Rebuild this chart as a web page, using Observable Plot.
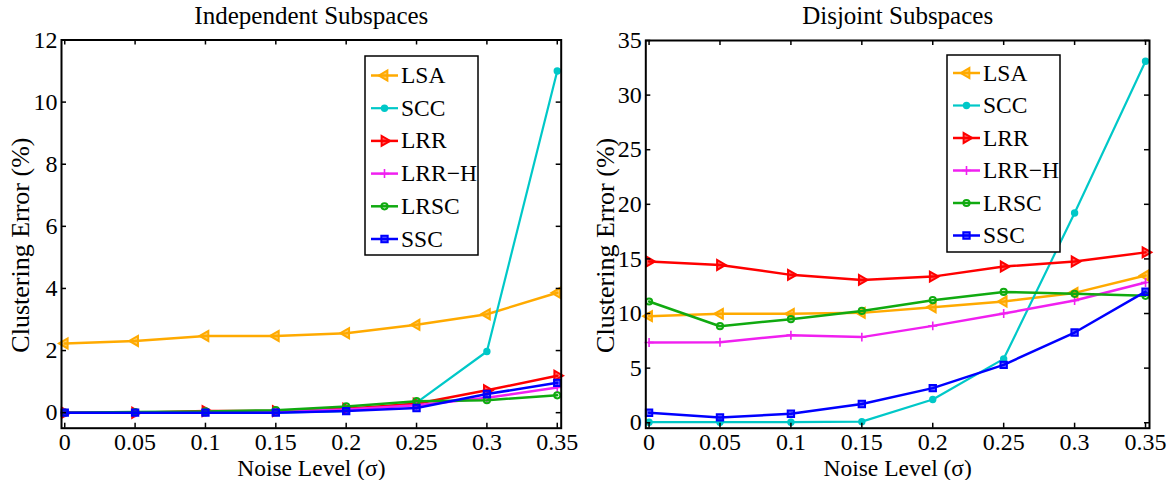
<!DOCTYPE html>
<html>
<head>
<meta charset="utf-8">
<script src="https://cdn.jsdelivr.net/npm/d3@7"></script>
<script src="https://cdn.jsdelivr.net/npm/@observablehq/plot@0.6"></script>
<style>
  body { margin: 0; background: #fff; }
  #chart { position: relative; width: 1173px; height: 480px; background: #fff; }
  #chart svg { position: absolute; top: 0; }
</style>
</head>
<body>
<div id="chart"></div>
<script>
// Noise level (sigma) on the x axis
const noise = [0, 0.05, 0.1, 0.15, 0.2, 0.25, 0.3, 0.35];
const methods = ["LSA", "SCC", "LRR", "LRR−H", "LRSC", "SSC"];

// Clustering error (%) — independent subspaces
const indepLSA  = [2.23, 2.31, 2.47, 2.47, 2.56, 2.83, 3.17, 3.86];
const indepSCC  = [0.0, 0.0, 0.0, 0.0, 0.05, 0.32, 1.97, 11.0];
const indepLRR  = [0.0, 0.0, 0.05, 0.05, 0.13, 0.29, 0.72, 1.19];
const indepLRRH = [0.0, 0.0, 0.02, 0.03, 0.1, 0.24, 0.48, 0.81];
const indepLRSC = [0.0, 0.02, 0.04, 0.08, 0.2, 0.37, 0.4, 0.56];
const indepSSC  = [0.0, 0.0, 0.0, 0.0, 0.05, 0.15, 0.6, 0.96];

// Clustering error (%) — disjoint subspaces
const disjLSA  = [9.76, 9.97, 9.97, 10.06, 10.58, 11.1, 11.89, 13.48];
const disjSCC  = [0.05, 0.05, 0.05, 0.1, 2.13, 5.85, 19.2, 33.1];
const disjLRR  = [14.76, 14.45, 13.54, 13.08, 13.38, 14.3, 14.76, 15.6];
const disjLRRH = [7.35, 7.38, 8.02, 7.84, 8.87, 10.0, 11.19, 12.84];
const disjLRSC = [11.1, 8.84, 9.48, 10.24, 11.22, 11.98, 11.8, 11.62];
const disjSSC  = [0.91, 0.49, 0.82, 1.71, 3.17, 5.3, 8.26, 12.0];

// Axis tick values
const xTicks = [0, 0.05, 0.1, 0.15, 0.2, 0.25, 0.3, 0.35];
const yTicksIndep = [0, 2, 4, 6, 8, 10, 12];
const yTicksDisj = [0, 5, 10, 15, 20, 25, 30, 35];

// Line / marker style for each method
const styles = {
  "LSA":   {color: "#ffaa00", symbol: "triangle", rotate: -90, r: 3.7, fillOpacity: 0.6},
  "SCC":   {color: "#00c8c8", symbol: "circle",   rotate: 0,   r: 2.7, fillOpacity: 1, width: 2.2},
  "LRR":   {color: "#ff0000", symbol: "triangle", rotate: 90,  r: 3.7, fillOpacity: 0.6},
  "LRR−H": {color: "#f020f0", symbol: "plus",     rotate: 0,   r: 3.0, fillOpacity: 0},
  "LRSC":  {color: "#10aa10", symbol: "circle",   rotate: 0,   r: 3.1, fillOpacity: 0},
  "SSC":   {color: "#0000ff", symbol: "square",   rotate: 0,   r: 3.6, fillOpacity: 0.6}
};
const d3Symbols = {triangle: d3.symbolTriangle, circle: d3.symbolCircle, plus: d3.symbolPlus, square: d3.symbolSquare};

function rows(seriesList) {
  return seriesList.flatMap((vals, i) =>
    vals.map((v, j) => ({method: methods[i], sigma: noise[j], err: v})));
}

const FONT = "'Liberation Serif', 'Times New Roman', serif";
const TICK_FONT = 24;

function panel({title, data, yDomain, yTicks, width, margin, legend}) {
  const xDomain = [-0.0023, 0.3528];
  const height = 480;
  const frameW = width - margin.left - margin.right;
  const frameH = height - margin.top - margin.bottom;
  const tickLenY = (yDomain[1] - yDomain[0]) * 5 / frameH;
  const tickLenX = (xDomain[1] - xDomain[0]) * 5 / frameW;

  const seriesMarks = methods.flatMap(m => {
    const s = styles[m];
    const d = data.filter(r => r.method === m);
    return [
      Plot.line(d, {x: "sigma", y: "err", stroke: s.color, strokeWidth: s.width ?? 2.5, strokeLinejoin: "round"}),
      Plot.dot(d, {x: "sigma", y: "err", symbol: () => s.symbol, r: s.r, rotate: s.rotate,
                   stroke: s.color, fill: s.color, fillOpacity: s.fillOpacity,
                   strokeWidth: s.symbol === "plus" ? 1.6 : 2})
    ];
  });

  const svg = Plot.plot({
    width, height,
    marginLeft: margin.left, marginRight: margin.right,
    marginTop: margin.top, marginBottom: margin.bottom,
    style: {fontFamily: FONT, fontSize: `${TICK_FONT}px`, color: "black", background: "white", overflow: "visible"},
    x: {domain: xDomain},
    y: {domain: yDomain},
    symbol: {type: "identity"},
    marks: [
      ...seriesMarks,
      // inward ticks on all four sides
      Plot.ruleX(xTicks, {x: d => d, y1: yDomain[0], y2: yDomain[0] + tickLenY, stroke: "black", strokeWidth: 1.5}),
      Plot.ruleX(xTicks, {x: d => d, y1: yDomain[1] - tickLenY, y2: yDomain[1], stroke: "black", strokeWidth: 1.5}),
      Plot.ruleY(yTicks, {y: d => d, x1: xDomain[0], x2: xDomain[0] + tickLenX, stroke: "black", strokeWidth: 1.5}),
      Plot.ruleY(yTicks, {y: d => d, x1: xDomain[1] - tickLenX, x2: xDomain[1], stroke: "black", strokeWidth: 1.5}),
      Plot.frame({stroke: "black", strokeWidth: 2}),
      Plot.axisX({ticks: xTicks, tickSize: 0, tickPadding: 5, tickFormat: d => String(d), label: null, fontSize: TICK_FONT}),
      Plot.axisY({ticks: yTicks, tickSize: 0, tickPadding: 4, tickFormat: d => String(d), label: null, fontSize: TICK_FONT}),
      Plot.text([title], {frameAnchor: "top", lineAnchor: "middle", textAnchor: "middle", dy: -24.5, text: d => d, fontSize: 25}),
      Plot.text(["Noise Level (σ)"], {frameAnchor: "bottom", lineAnchor: "middle", textAnchor: "middle", dy: 40, text: d => d, fontSize: 23.5}),
      Plot.text(["Clustering Error (%)"], {frameAnchor: "left", lineAnchor: "middle", textAnchor: "middle",
                                           dx: legend.yLabelDx, dy: 11, rotate: -90, text: d => d, fontSize: 26})
    ]
  });

  // Legend box with line + marker samples
  const g = d3.select(svg).append("g").attr("class", "legend");
  g.append("rect")
    .attr("x", legend.x).attr("y", legend.y)
    .attr("width", legend.w).attr("height", legend.h)
    .attr("fill", "white").attr("stroke", "black").attr("stroke-width", 1.5);
  methods.forEach((m, i) => {
    const s = styles[m];
    const cy = legend.rowY + i * legend.rowStep;
    const x0 = legend.x + 6, x1 = legend.x + 33;
    const row = g.append("g");
    row.append("line").attr("x1", x0).attr("x2", x1).attr("y1", cy).attr("y2", cy)
      .attr("stroke", s.color).attr("stroke-width", s.width ?? 2.5);
    row.append("path")
      .attr("d", d3.symbol(d3Symbols[s.symbol], Math.PI * s.r * s.r)())
      .attr("transform", `translate(${(x0 + x1) / 2},${cy}) rotate(${s.rotate})`)
      .attr("stroke", s.color).attr("fill", s.color).attr("fill-opacity", s.fillOpacity)
      .attr("stroke-width", s.symbol === "plus" ? 1.6 : 2);
    row.append("text")
      .attr("x", x1 + 3).attr("y", cy).attr("dy", "0.32em")
      .attr("text-anchor", "start")
      .attr("font-family", FONT).attr("font-size", 23.5).attr("fill", "black")
      .text(m);
  });
  return svg;
}

const chart = document.getElementById("chart");

const left = panel({
  title: "Independent Subspaces",
  data: rows([indepLSA, indepSCC, indepLRR, indepLRRH, indepLRSC, indepSSC]),
  yDomain: [-0.5, 12], yTicks: yTicksIndep,
  width: 580,
  margin: {left: 61, right: 19.3, top: 39.5, bottom: 52.3},
  legend: {x: 365, y: 56, w: 113, h: 199, rowY: 75.5, rowStep: 32.7, yLabelDx: -41}
});
left.style.left = "0px";
chart.appendChild(left);

const right = panel({
  title: "Disjoint Subspaces",
  data: rows([disjLSA, disjSCC, disjLRR, disjLRRH, disjLRSC, disjSSC]),
  yDomain: [-0.5, 35], yTicks: yTicksDisj,
  width: 593,
  margin: {left: 65.3, right: 24, top: 40, bottom: 52.3},
  legend: {x: 367, y: 55, w: 113, h: 197, rowY: 73, rowStep: 32.5, yLabelDx: -40}
});
right.style.left = "580px";
chart.appendChild(right);
</script>
</body>
</html>
